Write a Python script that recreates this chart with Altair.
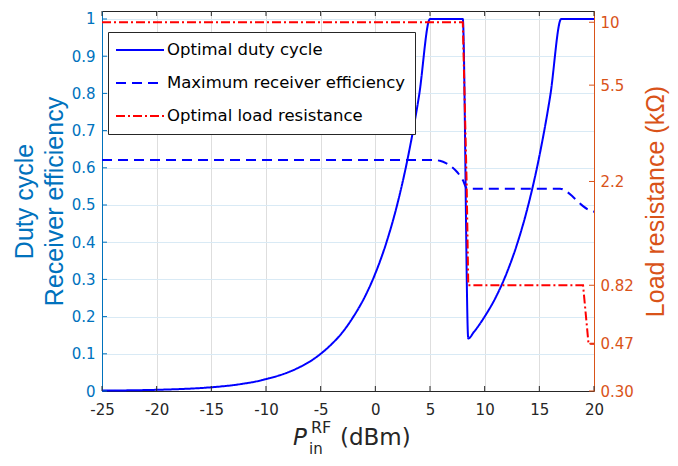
import altair as alt
import pandas as pd

# ---------------- data ----------------
p_duty = [-25, -24, -23, -22, -21, -20, -19, -18, -17, -16, -15, -14, -13, -12, -11,
          -10, -9, -8, -7, -6, -5, -4, -3, -2, -1, 0, 1, 2, 3, 4, 5,
          8.0, 8.5, 9, 10, 11, 12, 13, 14, 15, 16, 17, 20]
duty = [0.001, 0.0013, 0.0016, 0.002, 0.0025, 0.0032, 0.004, 0.005, 0.0063, 0.0079,
        0.010, 0.0126, 0.0158, 0.020, 0.025, 0.032, 0.040, 0.050, 0.063, 0.079,
        0.100, 0.126, 0.158, 0.200, 0.251, 0.316, 0.398, 0.501, 0.631, 0.794, 1.0,
        1.0, 0.141, 0.158, 0.200, 0.251, 0.316, 0.398, 0.501, 0.631, 0.794, 1.0, 1.0]

p_eff = [-25, 5.3, 5.9, 6.5, 7.0, 7.5, 8.0, 8.4, 16.9, 17.5, 18.0, 18.5, 19.0, 19.5, 20]
eff = [0.621, 0.621, 0.619, 0.612, 0.602, 0.588, 0.567, 0.544, 0.544, 0.536, 0.524,
       0.510, 0.497, 0.487, 0.482]

p_load = [-25, 8.0, 8.35, 8.5, 19.0, 19.5, 20]
load = [10, 10, 2.2, 0.82, 0.82, 0.47, 0.47]

series_names = ["Optimal duty cycle", "Maximum receiver efficiency", "Optimal load resistance"]
series_colors = ["#0000ff", "#0000ff", "#ff0000"]
series_dash = [[1, 0], [10, 6], [9, 3, 2, 3]]

x_ticks = [-25, -20, -15, -10, -5, 0, 5, 10, 15, 20]
left_ticks = [0, 0.1, 0.2, 0.3, 0.4, 0.5, 0.6, 0.7, 0.8, 0.9, 1.0]
right_ticks = [0.30, 0.47, 0.82, 2.2, 5.5, 10]
right_labels = ["0.30", "0.47", "0.82", "2.2", "5.5", "10"]

# ---------------- styling ----------------
W, H = 492, 380
BLUE_AX = "#0072BD"
ORANGE_AX = "#D95319"
DARK = "#262626"
TICK_FONT = "DejaVu Sans"
TITLE_FONT = "Liberation Sans"

df_duty = pd.DataFrame({"p": p_duty, "v": duty, "s": series_names[0]})
df_eff = pd.DataFrame({"p": p_eff, "v": eff, "s": series_names[1]})
df_load = pd.DataFrame({"p": p_load, "v": load, "s": series_names[2]})
df_xt = pd.DataFrame({"t": x_ticks})
df_lt = pd.DataFrame({"t": left_ticks})
df_rt = pd.DataFrame({"t": right_ticks})

label_map = "{" + ",".join(f"'{v}':'{l}'" for v, l in zip(right_ticks, right_labels)) + "}"

x_scale = alt.Scale(domain=[-25, 20], nice=False, zero=False)
left_scale = alt.Scale(domain=[0, 1.0215], nice=False, zero=False)
right_scale = alt.Scale(type="log", domain=[0.3, 11.13], nice=False)

color_scale = alt.Scale(domain=series_names, range=series_colors)
dash_scale = alt.Scale(domain=series_names, range=series_dash)

legend = alt.Legend(
    title=None, orient="none", legendX=6, legendY=21,
    symbolType="M-3,0H3", symbolSize=256, symbolStrokeWidth=2, symbolOffset=14,
    labelFont=TICK_FONT, labelFontSize=16.5, labelColor="black", labelOffset=18,
    strokeColor=DARK, fillColor="white", padding=9, rowPadding=15,
    cornerRadius=0, labelLimit=400,
)

x_axis = alt.Axis(
    values=x_ticks, labelExpr="toString(datum.value)", title=None,
    grid=True, gridColor="#dedede", gridWidth=1,
    ticks=False, tickSize=0, labelPadding=11, labelFlush=False, labelOverlap=False,
    labelFont=TICK_FONT, labelFontSize=15, labelColor=DARK,
    domainColor=DARK, domainWidth=1,
)

left_axis = alt.Axis(
    values=left_ticks, labelExpr="toString(round(datum.value * 10) / 10)",
    title=["Duty cycle", "Receiver efficiency"],
    titleFont=TITLE_FONT, titleFontSize=25, titleFontWeight="normal",
    titleColor=BLUE_AX, titleAngle=270, titleAlign="center",
    titleBaseline="alphabetic", titleX=-70, titleY=H / 2, titleLineHeight=30,
    grid=True, gridColor="#d9eaf5", gridWidth=1,
    ticks=False, tickSize=0, labelPadding=7, labelFlush=False, labelOverlap=False,
    labelFont=TICK_FONT, labelFontSize=15, labelColor=BLUE_AX,
    domainColor=BLUE_AX, domainWidth=1,
)

right_axis = alt.Axis(
    orient="right", values=right_ticks,
    labelExpr=f"{label_map}[toString(datum.value)]",
    title="Load resistance (kΩ)",
    titleFont=TITLE_FONT, titleFontSize=25, titleFontWeight="normal",
    titleColor=ORANGE_AX, titleAngle=270, titleAlign="center",
    titleBaseline="alphabetic", titleX=69, titleY=H / 2,
    grid=False, ticks=False, tickSize=0, labelPadding=6,
    labelFlush=False, labelOverlap=False,
    labelFont=TICK_FONT, labelFontSize=15, labelColor=ORANGE_AX,
    domainColor=ORANGE_AX, domainWidth=1,
)

duty_line = alt.Chart(df_duty).mark_line(strokeWidth=2, interpolate="monotone").encode(
    x=alt.X("p:Q", scale=x_scale, axis=x_axis),
    y=alt.Y("v:Q", scale=left_scale, axis=left_axis),
    color=alt.Color("s:N", scale=color_scale, legend=legend),
    strokeDash=alt.StrokeDash("s:N", scale=dash_scale, legend=legend),
)
eff_line = alt.Chart(df_eff).mark_line(strokeWidth=2, interpolate="monotone").encode(
    x=alt.X("p:Q", scale=x_scale, axis=x_axis),
    y=alt.Y("v:Q", scale=left_scale, axis=left_axis),
    color=alt.Color("s:N", scale=color_scale, legend=legend),
    strokeDash=alt.StrokeDash("s:N", scale=dash_scale, legend=legend),
)
left_tick_marks = alt.Chart(df_lt).mark_rule(color=BLUE_AX, strokeWidth=1).encode(
    y=alt.Y("t:Q", scale=left_scale, axis=left_axis), x=alt.value(0), x2=alt.value(5)
)
x_tick_bottom = alt.Chart(df_xt).mark_rule(color=DARK, strokeWidth=1).encode(
    x=alt.X("t:Q", scale=x_scale, axis=x_axis), y=alt.value(H), y2=alt.value(H - 5)
)
x_tick_top = alt.Chart(df_xt).mark_rule(color=DARK, strokeWidth=1).encode(
    x=alt.X("t:Q", scale=x_scale, axis=x_axis), y=alt.value(0), y2=alt.value(5)
)

left_layer = alt.layer(duty_line, eff_line, left_tick_marks, x_tick_bottom, x_tick_top)

load_line = alt.Chart(df_load).mark_line(strokeWidth=2).encode(
    x=alt.X("p:Q", scale=x_scale, axis=x_axis),
    y=alt.Y("v:Q", scale=right_scale, axis=right_axis),
    color=alt.Color("s:N", scale=color_scale, legend=legend),
    strokeDash=alt.StrokeDash("s:N", scale=dash_scale, legend=legend),
)
right_tick_marks = alt.Chart(df_rt).mark_rule(color=ORANGE_AX, strokeWidth=1).encode(
    y=alt.Y("t:Q", scale=right_scale, axis=right_axis), x=alt.value(W - 5), x2=alt.value(W)
)
right_layer = alt.layer(load_line, right_tick_marks)

# x-axis title with sub/superscript, as text pieces
one = pd.DataFrame({"k": [0]})
t_P = alt.Chart(one).mark_text(text="P", font=TICK_FONT, fontSize=23, fontStyle="italic",
                               color=DARK, align="left", baseline="alphabetic").encode(
    x=alt.value(191), y=alt.value(434))
t_RF = alt.Chart(one).mark_text(text="RF", font=TICK_FONT, fontSize=16,
                                color=DARK, align="left", baseline="alphabetic").encode(
    x=alt.value(209), y=alt.value(422))
t_in = alt.Chart(one).mark_text(text="in", font=TICK_FONT, fontSize=15,
                                color=DARK, align="left", baseline="alphabetic").encode(
    x=alt.value(207), y=alt.value(443))
t_dbm = alt.Chart(one).mark_text(text="(dBm)", font=TICK_FONT, fontSize=23,
                                 color=DARK, align="left", baseline="alphabetic").encode(
    x=alt.value(238), y=alt.value(434))

chart = alt.layer(left_layer, right_layer, t_P, t_RF, t_in, t_dbm).resolve_scale(
    y="independent"
).properties(
    width=W, height=H,
    autosize=alt.AutoSizeParams(type="none"),
    padding={"left": 94, "top": 3, "right": 76, "bottom": 67},
).configure_view(stroke=DARK, strokeWidth=1)

chart.save("out.html", embed_options={"renderer": "svg", "actions": False})
